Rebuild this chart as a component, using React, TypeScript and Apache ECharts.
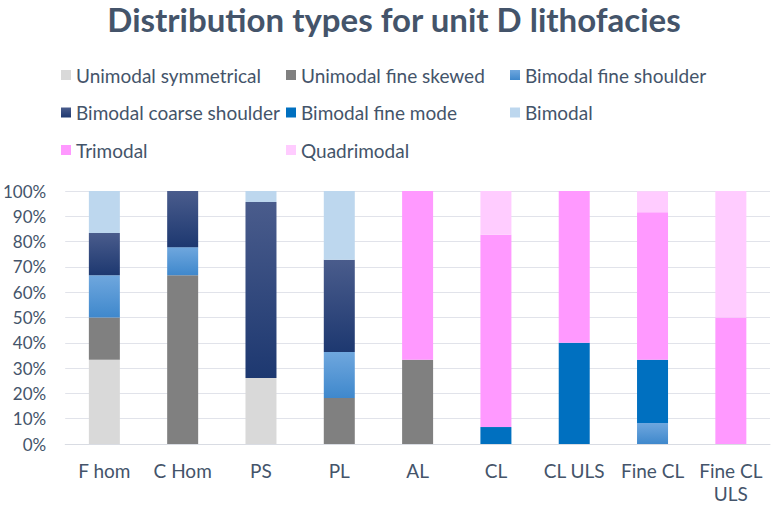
import React, { useEffect, useRef } from "react";
import * as echarts from "echarts";

const categories = ["F hom", "C Hom", "PS", "PL", "AL", "CL", "CL ULS", "Fine CL", "Fine CL\nULS"];

const unimodalSymmetrical = [33.3, 0, 26.1, 0, 0, 0, 0, 0, 0];
const unimodalFineSkewed = [16.7, 66.7, 0, 18.2, 33.3, 0, 0, 0, 0];
const bimodalFineShoulder = [16.7, 11.1, 0, 18.2, 0, 0, 0, 8.3, 0];
const bimodalCoarseShoulder = [16.7, 22.2, 69.6, 36.4, 0, 0, 0, 0, 0];
const bimodalFineMode = [0, 0, 0, 0, 0, 6.7, 40, 25, 0];
const bimodal = [16.7, 0, 4.3, 27.3, 0, 0, 0, 0, 0];
const trimodal = [0, 0, 0, 0, 66.7, 76, 60, 58.3, 50];
const quadrimodal = [0, 0, 0, 0, 0, 17.3, 0, 8.3, 50];

const yTicks = [0, 10, 20, 30, 40, 50, 60, 70, 80, 90, 100];

const FONT = "Lato";
const TEXT = "#44546A";

const grad = (top: string, bottom: string) =>
  new echarts.graphic.LinearGradient(0, 0, 0, 1, [
    { offset: 0, color: top },
    { offset: 1, color: bottom },
  ]);

export default function App() {
  const ref = useRef<HTMLDivElement>(null);
  useEffect(() => {
    if (!ref.current) return;
    const chart = echarts.init(ref.current, null, { renderer: "svg" });
    const seriesDefs = [
      { name: "Unimodal symmetrical", data: unimodalSymmetrical, color: "#D9D9D9" as any },
      { name: "Unimodal fine skewed", data: unimodalFineSkewed, color: "#808080" as any },
      { name: "Bimodal fine shoulder", data: bimodalFineShoulder, color: grad("#6FA7DE", "#3F88CC") as any },
      { name: "Bimodal coarse shoulder", data: bimodalCoarseShoulder, color: grad("#4A5C8C", "#1D3870") as any },
      { name: "Bimodal fine mode", data: bimodalFineMode, color: "#0070C0" as any },
      { name: "Bimodal", data: bimodal, color: "#BDD7EE" as any },
      { name: "Trimodal", data: trimodal, color: "#FF99FF" as any },
      { name: "Quadrimodal", data: quadrimodal, color: "#FFCCFF" as any },
    ];
    const legendBase = {
      orient: "vertical" as const,
      top: 64,
      padding: 0,
      itemWidth: 10,
      itemHeight: 10,
      itemGap: 15.5,
      icon: "rect",
      selectedMode: false,
      textStyle: { fontFamily: FONT, fontSize: 19, color: TEXT, lineHeight: 22 },
    };
    chart.setOption({
      animation: false,
      backgroundColor: "#ffffff",
      title: {
        text: "Distribution types for unit D lithofacies",
        left: 394,
        textAlign: "center",
        top: 2,
        padding: 0,
        textStyle: { fontFamily: FONT, fontWeight: "bold", fontSize: 33, color: TEXT },
      },
      legend: [
        { ...legendBase, left: 61, data: ["Unimodal symmetrical", "Bimodal coarse shoulder", "Trimodal"] },
        { ...legendBase, left: 286, data: ["Unimodal fine skewed", "Bimodal fine mode", "Quadrimodal"] },
        { ...legendBase, left: 510, data: ["Bimodal fine shoulder", "Bimodal"] },
      ],
      grid: { left: 64, right: 5, top: 191, bottom: 60, containLabel: false },
      xAxis: {
        type: "category",
        data: categories,
        axisTick: { show: false },
        axisLine: { lineStyle: { color: "#D9DCE3", width: 1 } },
        axisLabel: {
          fontFamily: FONT,
          fontSize: 19,
          color: TEXT,
          margin: 15,
          lineHeight: 23,
          interval: 0,
        },
      },
      yAxis: {
        type: "value",
        min: yTicks[0],
        max: yTicks[yTicks.length - 1],
        interval: yTicks[1] - yTicks[0],
        axisLine: { show: false },
        axisTick: { show: false },
        splitLine: { lineStyle: { color: "#E1E3EA", width: 1 } },
        axisLabel: {
          fontFamily: FONT,
          fontSize: 17,
          color: TEXT,
          margin: 19,
          formatter: (v: number) => `${v}%`,
        },
      },
      series: seriesDefs.map((s) => ({
        name: s.name,
        type: "bar",
        stack: "total",
        barWidth: 31,
        data: s.data,
        itemStyle: { color: s.color },
      })),
    });
    return () => chart.dispose();
  }, []);
  return (
    <div
      ref={ref}
      style={{ position: "fixed", left: 0, top: 0, width: 775, height: 505, background: "#fff" }}
    />
  );
}
